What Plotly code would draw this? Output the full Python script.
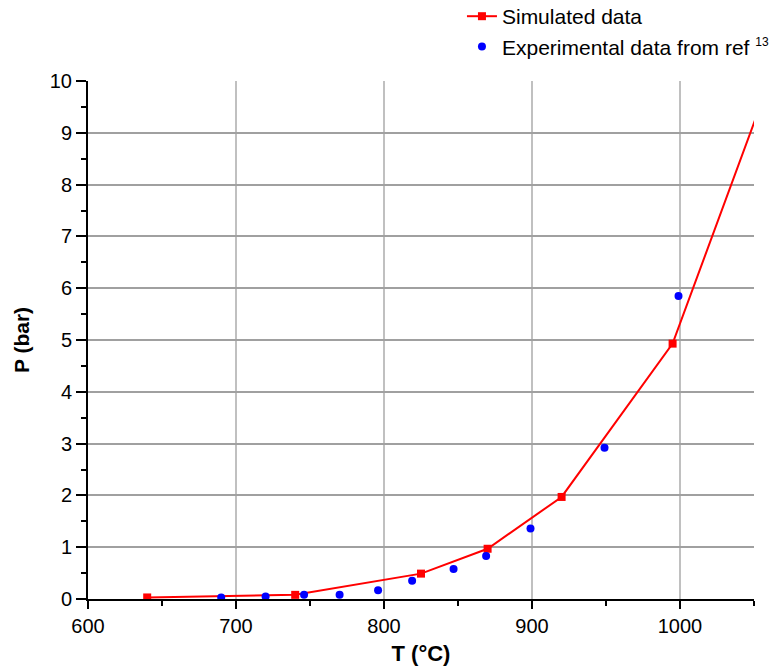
import plotly.graph_objects as go

sim_T = [640, 740, 825, 870, 920, 995, 1070]
sim_P = [0.03, 0.08, 0.49, 0.97, 1.97, 4.93, 10.74]

exp_T = [690, 720, 746, 770, 796, 819, 847, 869, 899, 949, 999]
exp_P = [0.03, 0.05, 0.08, 0.08, 0.17, 0.35, 0.58, 0.83, 1.36, 2.92, 5.85]

x_ticks = [600, 700, 800, 900, 1000]
y_ticks = list(range(0, 11))

FONT = "Liberation Sans, Arial, sans-serif"

fig = go.Figure()
fig.add_trace(go.Scatter(
    x=sim_T, y=sim_P, mode="lines+markers", name="Simulated data",
    line=dict(color="#ff0000", width=2),
    marker=dict(symbol="square", size=8, color="#ff0000"),
    cliponaxis=True,
))
fig.add_trace(go.Scatter(
    x=exp_T, y=exp_P, mode="markers",
    name='Experimental data from ref <sup><span style="font-size:12px">13</span></sup>',
    marker=dict(symbol="circle", size=8, color="#0000ff"),
))

fig.update_layout(
    width=771, height=658,
    margin=dict(l=80, r=25, t=73, b=67, autoexpand=False),
    paper_bgcolor="white", plot_bgcolor="white",
    font=dict(family=FONT, size=20, color="black"),
    showlegend=True,
    legend=dict(
        x=0.5615, y=1.164, xanchor="left", yanchor="top",
        font=dict(family=FONT, size=21, color="black"),
        bgcolor="rgba(0,0,0,0)", borderwidth=0,
    ),
    xaxis=dict(
        range=[600, 1050], tickvals=x_ticks, automargin=False,
        showline=True, linecolor="black", linewidth=2,
        ticks="outside", ticklen=8, tickwidth=2, tickcolor="black",
        minor=dict(dtick=50, ticks="outside", ticklen=5, tickwidth=2, tickcolor="black", showgrid=False),
        showgrid=True, gridcolor="#c0c0c0", gridwidth=1.5,
        zeroline=False,
        tickfont=dict(size=20),
        title=dict(text="<b>T (°C)</b>", font=dict(size=22), standoff=11),
    ),
    yaxis=dict(
        range=[0, 10], tickvals=y_ticks, automargin=False,
        showline=True, linecolor="black", linewidth=2,
        ticks="outside", ticklen=10, tickwidth=2, tickcolor="black",
        minor=dict(dtick=0.5, ticks="outside", ticklen=5, tickwidth=2, tickcolor="black", showgrid=False),
        showgrid=True, gridcolor="#a0a0a0", gridwidth=1.5,
        zeroline=False,
        tickfont=dict(size=20),
        title=dict(text="<b>P (bar)</b>", font=dict(size=21), standoff=14),
    ),
)

fig.write_html("out.html")
